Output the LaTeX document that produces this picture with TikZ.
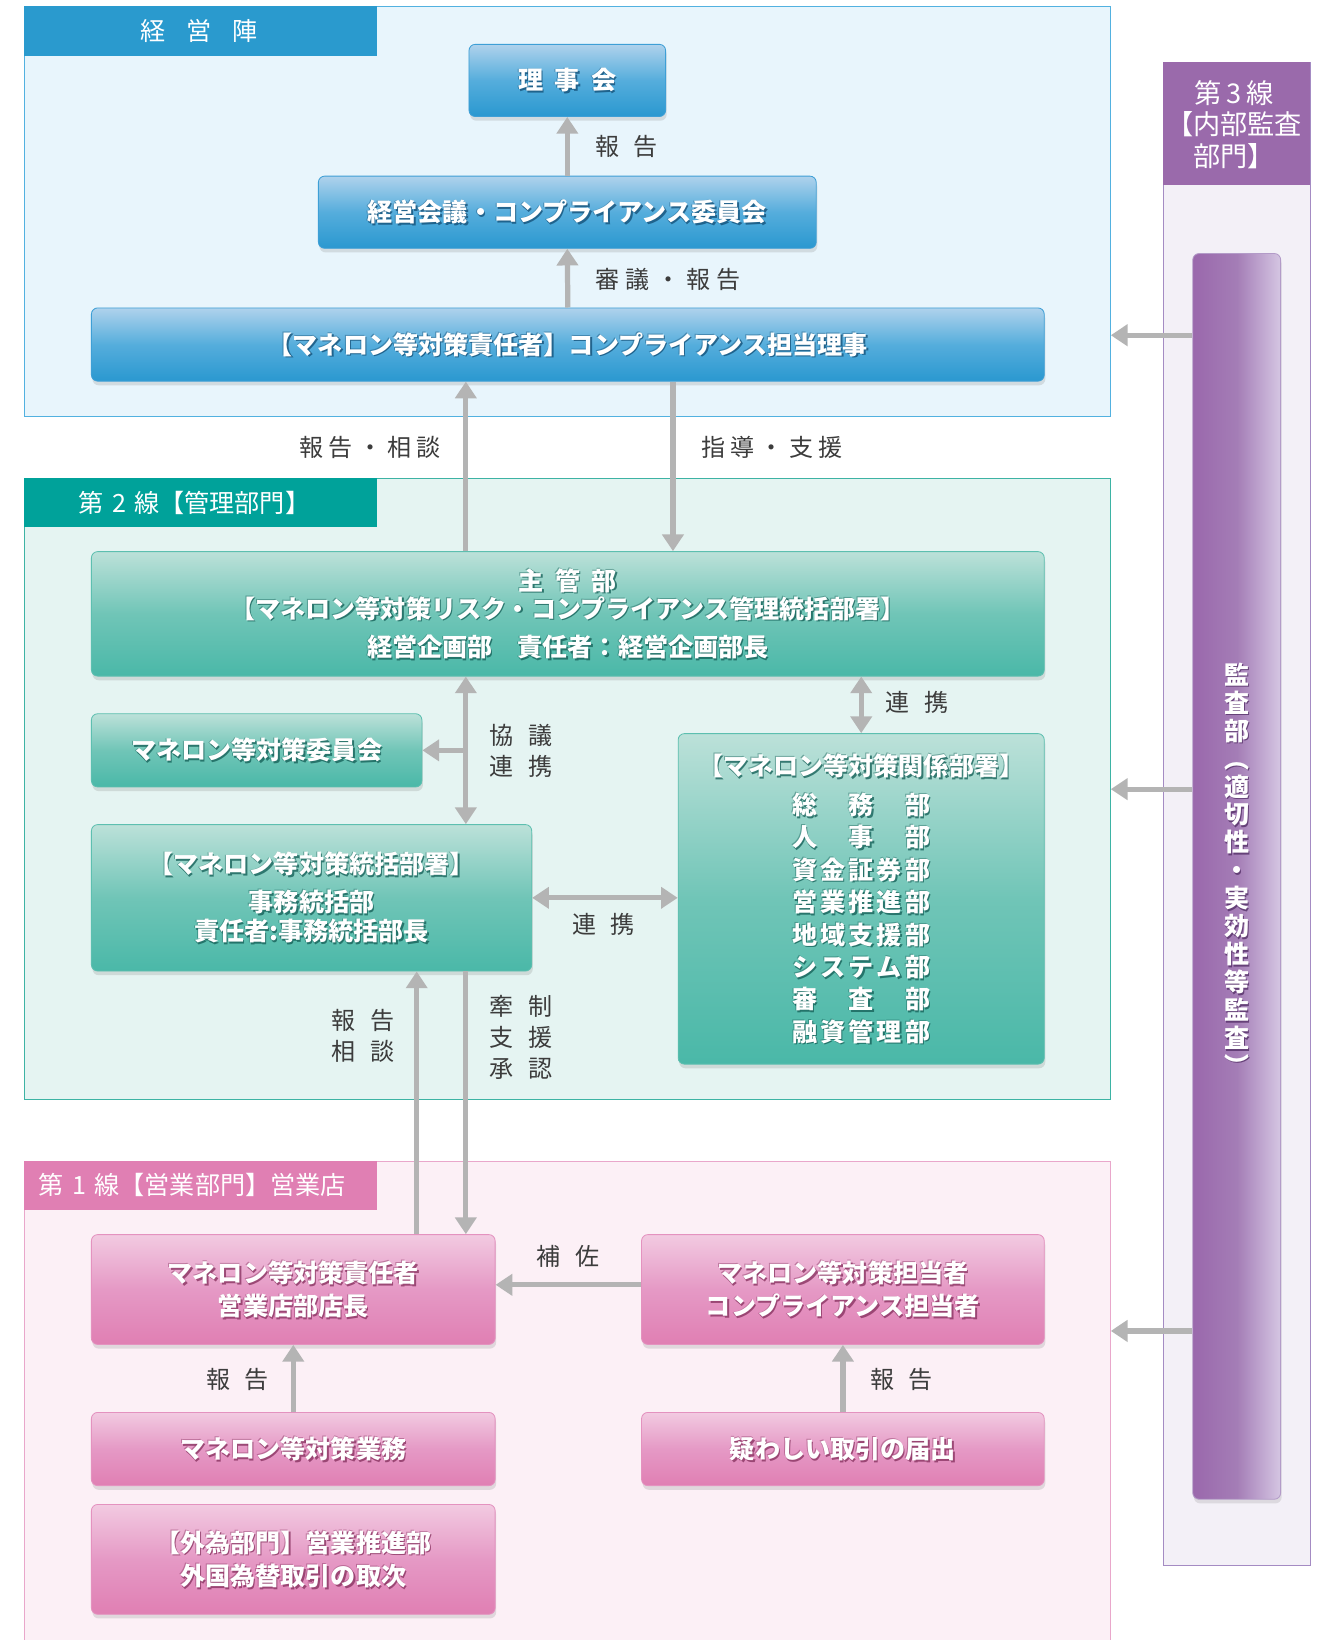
\documentclass[tikz,border=0pt]{standalone}
\usepackage{fontspec}
\newfontfamily\jp{Noto Sans CJK JP}
\usetikzlibrary{arrows.meta,shadows}
\definecolor{bluebg}{HTML}{E8F5FC}
\definecolor{blueline}{HTML}{52B1E0}
\definecolor{bluehead}{HTML}{2A9ACE}
\definecolor{bluetop}{HTML}{AFD2EC}
\definecolor{bluemid}{HTML}{55ADDC}
\definecolor{bluebot}{HTML}{2A98D0}
\definecolor{blueedge}{HTML}{3E9FD6}
\definecolor{bluesh}{HTML}{15527A}
\definecolor{greenbg}{HTML}{E5F4F2}
\definecolor{greenline}{HTML}{3DB3A4}
\definecolor{greenhead}{HTML}{00A29A}
\definecolor{greentop}{HTML}{BCE1D9}
\definecolor{greenmid}{HTML}{70C5B7}
\definecolor{greenbot}{HTML}{4AB8A8}
\definecolor{greenedge}{HTML}{5DBFB0}
\definecolor{greensh}{HTML}{17625A}
\definecolor{pinkbg}{HTML}{FCF0F6}
\definecolor{pinkline}{HTML}{E9A7CB}
\definecolor{pinkhead}{HTML}{E07FB3}
\definecolor{pinktop}{HTML}{F2CAE1}
\definecolor{pinkmid}{HTML}{E599C5}
\definecolor{pinkbot}{HTML}{E07FB3}
\definecolor{pinkedge}{HTML}{E492BF}
\definecolor{pinksh}{HTML}{8A3462}
\definecolor{purphead}{HTML}{9A6AAB}
\definecolor{purpbg}{HTML}{F3F0F7}
\definecolor{purpline}{HTML}{A48BC3}
\definecolor{barleft}{HTML}{9A68AC}
\definecolor{barmid}{HTML}{A47DB6}
\definecolor{barright}{HTML}{D5C6E3}
\definecolor{barline}{HTML}{B39BC8}
\definecolor{purpsh}{HTML}{553068}
\definecolor{arrcol}{HTML}{B4B4B4}
\definecolor{lblcol}{HTML}{3C3C3C}
\newcommand\kk{\hspace{3pt}}
\newcommand\pbox[8]{%
  \node[#2box, minimum width=#5pt, minimum height=#6pt] (#1) at (#3,#4) {};
  \node[boxtext, text=#2sh, opacity=0.45, #8] (#1g) at ([shift={(-0.8pt,0.8pt)}]#1.center) {#7};
  \node[boxtext, text=#2sh, opacity=0.8, #8] (#1s) at ([shift={(1.3pt,-1.6pt)}]#1.center) {#7};
  \node[boxtext, text=white, #8] (#1t) at (#1.center) {#7};
}
\begin{document}
\begin{tikzpicture}[x=1pt,y=-1pt,
  panel/.style={anchor=north west, inner sep=0pt, line width=1pt},
  head/.style={anchor=north west, inner sep=0pt, minimum width=337pt, minimum height=47pt},
  headtext/.style={inner sep=0pt, text=white, align=center, font=\jp\fontsize{24}{30}\selectfont},
  bx/.style={anchor=north west, inner sep=0pt, rounded corners=6pt, line width=0.8pt,
    drop shadow={opacity=0.22, shadow xshift=1pt, shadow yshift=-4pt}},
  bluebox/.style={bx, draw=blueedge, top color=bluetop, bottom color=bluebot, middle color=bluemid},
  greenbox/.style={bx, draw=greenedge, top color=greentop, bottom color=greenbot, middle color=greenmid},
  pinkbox/.style={bx, draw=pinkedge, top color=pinktop, bottom color=pinkbot, middle color=pinkmid},
  boxtext/.style={align=center, inner sep=0pt, font=\jp\bfseries\fontsize{24}{32}\selectfont},
  lbl/.style={align=center, inner sep=0pt, text=lblcol, font=\jp\fontsize{23}{29.5}\selectfont},
  arr/.style={draw=arrcol, line width=5pt, -{Triangle[width=20pt,length=16pt]}},
  darr/.style={draw=arrcol, line width=5pt, {Triangle[width=20pt,length=16pt]}-{Triangle[width=20pt,length=16pt]}}
]
\useasboundingbox (0,0) rectangle (1268,1568);
\fill[white] (0,0) rectangle (1268,1568);

% panels
\node[panel, draw=blueline, fill=bluebg, minimum width=1038pt, minimum height=392pt] (pblue) at (23,6) {};
\node[head, fill=bluehead] (hblue) at (23,6) {};
\node[headtext] (tblue) at (190,30) {経\hspace{20pt}営\hspace{20pt}陣};

\node[panel, draw=greenline, fill=greenbg, minimum width=1038pt, minimum height=594pt] (pgreen) at (23,457) {};
\node[head, fill=greenhead] (hgreen) at (23,457) {};
\node[headtext, anchor=west] (tgreen) at (75,481) {第\hspace{8pt}2\hspace{8pt}線【管理部門】};

\node[panel, draw=pinkline, fill=pinkbg, minimum width=1038pt, minimum height=470pt] (ppink) at (23,1110) {};
\node[head, fill=pinkhead] (hpink) at (23,1110) {};
\node[headtext, anchor=west] (tpink) at (37,1133) {第\hspace{8pt}1\hspace{8pt}線【営業部門】営業店};

\node[panel, draw=purpline, fill=purpbg, minimum width=140pt, minimum height=1437pt] (ppurp) at (1112,59) {};
\node[head, fill=purphead, minimum width=140pt, minimum height=118pt] (hpurp) at (1112,59) {};
\node[headtext, font=\jp\fontsize{26}{30}\selectfont] (tpurp) at (1180,119) {第\hspace{5pt}3\hspace{5pt}線\\【内部監査\\部門】};

% audit bar
\node[anchor=north west, inner sep=0pt, minimum width=84pt, minimum height=1191pt, rounded corners=6pt,
  draw=barline, line width=0.8pt, left color=barleft, right color=barright, middle color=barmid,
  drop shadow={opacity=0.2, shadow xshift=1pt, shadow yshift=-4pt}] (bar) at (1140,242) {};
\node[boxtext, text=purpsh, opacity=0.8, font=\jp\bfseries\fontsize{24}{26.7}\selectfont] (bars) at ([shift={(1.3pt,5.4pt)}]bar.center)
  {監\\査\\部\\︵\\適\\切\\性\\・\\実\\効\\性\\等\\監\\査\\︶};
\node[boxtext, text=white, font=\jp\bfseries\fontsize{24}{26.7}\selectfont] (bart) at ([yshift=7pt]bar.center)
  {監\\査\\部\\︵\\適\\切\\性\\・\\実\\効\\性\\等\\監\\査\\︶};

% boxes
\pbox{riji}{blue}{448}{42}{188}{69}{理\hspace{11pt}事\hspace{11pt}会}{}
\pbox{kaigi}{blue}{304}{168}{476}{69}{経営会議・コンプライアンス委員会}{}
\pbox{tanto}{blue}{87}{294}{911}{70}{【マネロン等対策責任者】コンプライアンス担当理事}{}
\pbox{shukan}{green}{87}{527}{911}{119}{主\hspace{11pt}管\hspace{11pt}部\\【マネロン等対策リスク・コンプライアンス管理統括部署】\\[10pt]経営企画部　責任者：経営企画部長}{font=\jp\bfseries\fontsize{24}{27}\selectfont}
\pbox{iinkai}{green}{87}{682}{316}{70}{マネロン等対策委員会}{}
\pbox{tokatsu}{green}{87}{788}{421}{140}{【マネロン等対策統括部署】\\[8pt]事務統括部\\責任者:事務統括部長}{font=\jp\bfseries\fontsize{24}{28}\selectfont}
\pbox{kankei}{green}{648}{701}{350}{316}{【マネロン等対策関係部署】\\[6pt]総\kk{}　\kk{}務\kk{}　\kk{}部\\人\kk{}　\kk{}事\kk{}　\kk{}部\\資\kk{}金\kk{}証\kk{}券\kk{}部\\営\kk{}業\kk{}推\kk{}進\kk{}部\\地\kk{}域\kk{}支\kk{}援\kk{}部\\シ\kk{}ス\kk{}テ\kk{}ム\kk{}部\\審\kk{}　\kk{}査\kk{}　\kk{}部\\融\kk{}資\kk{}管\kk{}理\kk{}部}{font=\jp\bfseries\fontsize{24}{31}\selectfont}
\pbox{sekinin}{pink}{87}{1180}{386}{105}{マネロン等対策責任者\\営業店部店長}{}
\pbox{tantosha}{pink}{613}{1180}{385}{105}{マネロン等対策担当者\\コンプライアンス担当者}{}
\pbox{gyomu}{pink}{87}{1350}{386}{70}{マネロン等対策業務}{}
\pbox{todokede}{pink}{613}{1350}{385}{70}{疑わしい取引の届出}{}
\pbox{gaitame}{pink}{87}{1438}{386}{105}{【外為部門】営業推進部\\外国為替取引の取次}{}

% connectors
\draw[arr] (kaigi.north) -- (riji.south);
\draw[arr] (tanto.north) -- (kaigi.south);
\draw[arr] ([xshift=-97.5pt]shukan.north) -- ([xshift=-97.5pt]tanto.south);
\draw[arr] ([xshift=100.5pt]tanto.south) -- ([xshift=100.5pt]shukan.north);
\draw[darr] (shukan.south -| kankei.north) -- (kankei.north);
\coordinate (kv) at ([xshift=-97.5pt]shukan.south);
\draw[darr] (kv) -- (kv |- tokatsu.north);
\draw[arr] (kv |- iinkai.east) -- (iinkai.east);
\draw[darr] (tokatsu.east) -- (tokatsu.east -| kankei.west);
\coordinate (t1) at ([xshift=100.5pt]tokatsu.south);
\draw[arr] (t1 |- sekinin.north) -- (t1);
\coordinate (t2) at ([xshift=147.5pt]tokatsu.south);
\draw[arr] (t2) -- (t2 |- sekinin.north);
\draw[arr] ([yshift=4.5pt]tantosha.west) -- ([yshift=4.5pt]sekinin.east);
\draw[arr] (gyomu.north) -- (gyomu.north |- sekinin.south);
\draw[arr] (todokede.north) -- (todokede.north |- tantosha.south);
\coordinate (q1) at ([yshift=-118pt]pblue.east);
\draw[arr] (bar.west |- q1) -- (q1);
\draw[arr] (bar.west |- pgreen.east) -- (pgreen.east);
\coordinate (q3) at ([yshift=73pt]ppink.east);
\draw[arr] (bar.west |- q3) -- (q3);

% labels
\node[lbl] (l1) at (599,140) {報\hspace{14pt}告};
\node[lbl] (l2) at (639,267) {審\hspace{6pt}議\hspace{6pt}・\hspace{6pt}報\hspace{6pt}告};
\node[lbl] (l3) at (354,428) {報\hspace{5pt}告\hspace{5pt}・\hspace{5pt}相\hspace{5pt}談};
\node[lbl] (l4) at (738,428) {指\hspace{5pt}導\hspace{5pt}・\hspace{5pt}支\hspace{5pt}援};
\node[lbl] (l5) at (877,672) {連\hspace{14pt}携};
\node[lbl] (l6) at (498,718) {協\hspace{14pt}議\\連\hspace{14pt}携};
\node[lbl] (l7) at (577,884) {連\hspace{14pt}携};
\node[lbl] (l8) at (347,990) {報\hspace{14pt}告\\相\hspace{14pt}談};
\node[lbl] (l9) at (498,992) {牽\hspace{14pt}制\\支\hspace{14pt}援\\承\hspace{14pt}認};
\node[lbl] (l10) at (543,1201) {補\hspace{14pt}佐};
\node[lbl] (l11) at (227,1319) {報\hspace{14pt}告};
\node[lbl] (l12) at (862,1319) {報\hspace{14pt}告};
\end{tikzpicture}
\end{document}
